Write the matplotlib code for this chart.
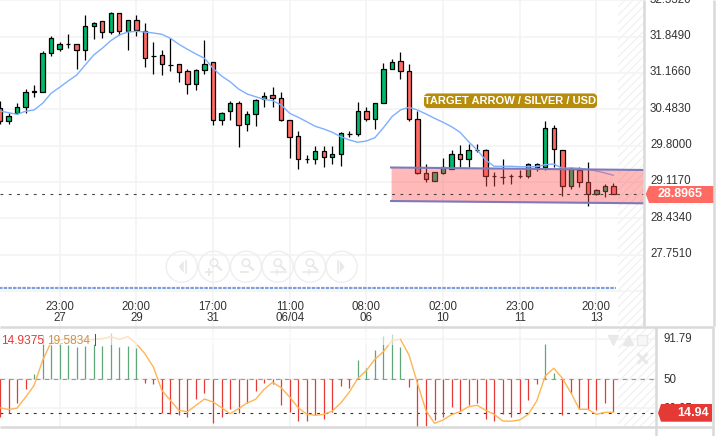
#!python3
# encoding: UTF-8

import matplotlib
matplotlib.use("Agg")
import matplotlib.pyplot as plt
from matplotlib.patches import Circle, FancyBboxPatch, Polygon
from matplotlib.transforms import ScaledTranslation

plt.rcParams["font.family"] = ["Liberation Sans", "DejaVu Sans"]
plt.rcParams["hatch.linewidth"] = 0.8

# candles, silver / usd
opens = [30.50, 30.27, 30.42, 30.52, 30.80, 30.81, 31.54, 31.62, 31.72, 31.72, 31.59, 32.04, 32.14, 31.94, 32.29, 31.96,
         32.16, 31.95, 31.48, 31.50, 31.32, 31.33, 31.20, 30.95, 31.23, 31.37, 30.28, 30.46, 30.60, 30.20, 30.39, 30.67,
         30.75, 30.69, 30.28, 29.98, 29.54, 29.54, 29.69, 29.58, 29.64, 30.02, 30.01, 30.45, 30.31, 30.60, 31.25, 31.39,
         31.20, 30.31, 29.28, 29.13, 29.28, 29.37, 29.64, 29.54, 29.71, 29.71, 29.22, 29.21, 29.22, 29.22, 29.22, 29.45,
         29.39, 30.13, 29.71, 29.04, 29.34, 29.11, 28.89, 28.94, 29.05]
closes = [30.27, 30.36, 30.52, 30.80, 30.83, 31.54, 31.82, 31.72, 31.72, 31.59, 32.04, 32.10, 31.94, 32.29, 31.96, 32.16,
          31.98, 31.45, 31.48, 31.33, 31.32, 31.19, 30.95, 31.23, 31.33, 30.28, 30.41, 30.60, 30.18, 30.39, 30.65, 30.73,
          30.70, 30.28, 29.96, 29.54, 29.54, 29.69, 29.58, 29.64, 30.03, 30.02, 30.45, 30.31, 30.60, 31.25, 31.37, 31.20,
          30.31, 29.28, 29.17, 29.30, 29.39, 29.64, 29.54, 29.71, 29.71, 29.22, 29.22, 29.21, 29.22, 29.22, 29.45, 29.39,
          30.13, 29.73, 29.04, 29.36, 29.11, 28.89, 28.96, 29.05, 28.8965]
highs = [30.64, 30.41, 30.60, 30.86, 30.94, 31.57, 31.86, 31.74, 31.89, 31.72, 32.25, 32.12, 32.14, 32.31, 32.29, 32.16,
         32.25, 32.10, 31.74, 31.59, 31.82, 31.33, 31.24, 31.25, 31.78, 31.37, 30.43, 30.63, 30.63, 30.46, 30.67, 30.80,
         30.90, 30.80, 30.28, 30.07, 29.62, 29.79, 29.79, 29.79, 30.05, 30.07, 30.62, 30.52, 30.60, 31.35, 31.42, 31.56,
         31.33, 30.46, 29.45, 29.30, 29.56, 29.71, 29.81, 29.83, 29.84, 29.73, 29.30, 29.54, 29.26, 29.34, 29.47, 29.47,
         30.26, 30.18, 29.71, 29.39, 29.39, 29.49, 28.98, 29.07, 29.09]
lows = [30.21, 30.21, 30.39, 30.42, 30.72, 30.80, 31.49, 31.57, 31.64, 31.24, 31.41, 31.81, 31.83, 31.90, 31.88, 31.60,
        31.87, 31.28, 31.15, 31.13, 31.21, 31.00, 30.78, 30.85, 31.15, 30.19, 30.19, 30.29, 29.77, 30.08, 30.16, 30.52,
        30.53, 30.26, 29.57, 29.37, 29.47, 29.45, 29.39, 29.46, 29.42, 29.96, 29.98, 30.26, 30.11, 30.60, 31.25, 31.06,
        30.26, 29.26, 29.11, 29.13, 29.26, 29.36, 29.39, 29.39, 29.68, 29.04, 29.05, 29.07, 29.07, 29.19, 29.19, 29.32,
        29.34, 29.39, 28.85, 28.98, 29.02, 28.66, 28.87, 28.83, 28.8965]
moving_avg = [30.451, 30.419, 30.389, 30.446, 30.470, 30.596, 30.784, 30.897, 31.015, 31.128, 31.316, 31.504, 31.630,
              31.773, 31.880, 31.936, 31.950, 31.936, 31.918, 31.893, 31.818, 31.705, 31.611, 31.523, 31.442, 31.254,
              31.109, 31.002, 30.865, 30.771, 30.720, 30.671, 30.645, 30.564, 30.408, 30.333, 30.250, 30.163, 30.113,
              30.051, 29.968, 29.906, 29.863, 29.887, 29.949, 30.137, 30.344, 30.470, 30.521, 30.470, 30.395, 30.314,
              30.239, 30.156, 30.051, 29.874, 29.718, 29.530, 29.412, 29.412, 29.412, 29.404, 29.404, 29.404, 29.442,
              29.455, 29.374, 29.385, 29.374, 29.355, 29.323, 29.286, 29.242]

# lower oscillator
osc_bars = [11.5, 15.6, 25.9, 40.3, 55.2, 95.6, 85.3, 87.7, 85.3, 83.0, 84.6, 86.4, 84.0, 98.0, 83.0, 84.3, 81.9, 46.5,
            45.5, 15.6, 14.3, 13.5, 11.5, 30.0, 36.2, 4.7, 10.9, 19.7, 15.0, 25.3, 37.6, 46.5, 45.5, 23.8, 16.6, 7.4,
            7.4, 13.5, 9.4, 16.6, 43.4, 41.3, 69.9, 61.3, 80.2, 94.6, 96.7, 83.0, 42.4, 1.2, 2.2, 8.1, 11.5, 21.8,
            17.7, 23.8, 25.3, 8.8, 7.4, 14.3, 11.5, 15.0, 28.7, 44.9, 86.4, 56.2, 13.5, 36.2, 19.1, 19.1, 18.4, 25.3, 16.6]
osc_line = [20.6, 18.9, 20.3, 31.6, 43.7, 69.4, 88.3, 90.7, 91.4, 91.4, 90.7, 91.0, 91.8, 94.0, 91.1, 94.0, 86.7, 76.4,
            62.7, 38.6, 28.3, 18.0, 16.6, 23.2, 29.7, 26.6, 20.8, 14.6, 19.7, 25.6, 29.4, 39.7, 46.9, 41.3, 31.7, 20.7,
            14.2, 12.9, 13.9, 17.3, 25.6, 36.9, 51.0, 59.0, 70.7, 78.5, 89.9, 91.3, 75.1, 45.9, 17.7, 4.7, 8.1, 13.6,
            16.7, 21.8, 23.3, 18.1, 14.0, 7.1, 6.8, 8.1, 14.0, 27.7, 53.5, 61.4, 51.1, 36.2, 19.1, 19.1, 13.9, 16.0, 16.0]

price_ticks = [32.532, 31.849, 31.166, 30.483, 29.800, 29.117, 28.434, 27.751, 27.068]
price_tick_labels = ["32.5320", "31.8490", "31.1660", "30.4830", "29.8000", "29.1170", "28.4340", "27.7510", ""]
osc_ticks = [91.79, 50, 20.05]
osc_tick_labels = ["91.79", "50", "20.05"]
time_ticks = [7, 16, 25, 34, 43, 52, 61, 70]
time_labels = ["23:00\n27", "20:00\n29", "17:00\n31", "11:00\n06/04", "08:00\n06", "02:00\n10", "23:00\n11", "20:00\n13"]

last_price = 28.8965
last_osc = 14.94
osc_mid = 50
lower_rule = 27.124
band_x = [45.9, 75.6]
band_top = [29.389, 29.342]
band_bottom = [28.759, 28.716]

GREEN = "#00b96b"
RED = "#ff6b63"
GRID = "#f3f3f3"
PANEL = "#d9d9d9"
TEXT = "#333333"
W, H = 723, 436
PX_PER_BAR = 8.52
xs = list(range(len(opens)))

fig = plt.figure(figsize=(W / 100, H / 100), dpi=100)
ax = fig.add_axes([0, (H - 326.7) / H, 644 / W, 326.7 / H])
ax2 = fig.add_axes([0, (H - 427) / H, 655.7 / W, 100.3 / H])
up = fig.add_axes([0, 0, 1, 1])


def shift_labels(axis, px):
    # labels sit a little above their grid line
    for lab in axis.yaxis.get_ticklabels():
        lab.set_transform(lab.get_transform() + ScaledTranslation(0, px / 100, fig.dpi_scale_trans))


# main panel
ax.axvspan(72.5, 644 / PX_PER_BAR, facecolor="none", edgecolor="#efefef", hatch="////", lw=0, zorder=0)
ax.vlines(xs, lows, highs, color="black", lw=0.9, zorder=3)
colors = [GREEN if c >= o else RED for o, c in zip(opens, closes)]
heights = [c - o for o, c in zip(opens, closes)]
ax.bar(xs, heights, bottom=opens, width=0.52, color=colors, edgecolor="black", linewidth=0.9, zorder=4)
ax.plot(xs, moving_avg, color="#7db0ff", lw=1.0, zorder=5)
ax.fill_between(band_x, band_bottom, band_top, color="#ff5252", alpha=0.4, lw=0, zorder=6)
ax.plot(band_x, band_top, color="#7e79b8", lw=1.5, zorder=7)
ax.plot(band_x, band_bottom, color="#7e79b8", lw=1.5, zorder=7)
ax.axhline(last_price, color="#444444", lw=0.8, ls=(0, (2.5, 5)), zorder=7)
ax.plot([-1, 72.3], [lower_rule, lower_rule], color="#7c9fdd", lw=1.6, ls=(0, (1.6, 0.5)), zorder=3)

ax.set_xlim(0, 644 / PX_PER_BAR)
ax.set_ylim(32.538 - 0.0188 * 326.7, 32.538)
ax.set_xticks(time_ticks, time_labels, linespacing=0.85, color=TEXT, fontsize=8.3)
ax.yaxis.tick_right()
ax.set_yticks(price_ticks, price_tick_labels, color=TEXT, fontsize=8.3)
ax.tick_params(axis="x", length=0, pad=-18.5)
ax.tick_params(axis="y", length=0, pad=4.3)
ax.grid(color=GRID, lw=1.1, zorder=0)
ax.set_axisbelow(True)
shift_labels(ax, 2)

# oscillator panel
ax2.axvspan(72.5, 655.7 / PX_PER_BAR, facecolor="none", edgecolor="#efefef", hatch="////", lw=0, zorder=0)
bar_colors = ["#5fa777" if v >= osc_mid else "#e53935" for v in osc_bars]
ax2.vlines(xs, osc_mid, osc_bars, colors=bar_colors, lw=0.9, zorder=3)
ax2.axhline(osc_mid, color="#999999", lw=0.8, ls=(0, (4, 4)), zorder=2)
ax2.axhline(last_osc, color="#333333", lw=0.8, ls=(0, (2.5, 5)), zorder=2)
ax2.plot(xs, osc_line, color="#ffb554", lw=1.0, zorder=4)
ax2.set_xlim(0, 655.7 / PX_PER_BAR)
ax2.set_ylim(50 - 47.7 * 1.03, 50 + 52.6 * 1.03)
ax2.set_xticks(time_ticks, [])
ax2.yaxis.tick_right()
ax2.set_yticks(osc_ticks, osc_tick_labels, color=TEXT, fontsize=8.3)
ax2.tick_params(axis="x", length=0)
ax2.tick_params(axis="y", length=0, pad=5.3)
ax2.grid(color=GRID, lw=1.1, zorder=0)
ax2.set_axisbelow(True)
shift_labels(ax2, 1.0)

for a in (ax, ax2):
    for s in a.spines.values():
        s.set_visible(False)
    a.patch.set_alpha(0)

# overlay in pixel coordinates: panel frame, badges and chart controls
up.set_xlim(0, W)
up.set_ylim(H, 0)
up.axis("off")
up.patch.set_alpha(0)

up.add_patch(plt.Rectangle((0, 332), 400, 13, color="white", alpha=0.6, lw=0))
up.text(1, 341, "14.9375", color="#e53935", fontsize=8.6, va="center")
up.text(47, 341, "19.5834", color="#c8944c", fontsize=8.6, va="center")
up.text(94, 340, "|", color="#555555", fontsize=8.6, va="center")

for xa, ya, xb, yb in [(0, 326.7, 714, 326.7), (0, 427, 714, 427), (644, 0, 644, 326), (714, 0, 714, 326),
                       (655.7, 327, 655.7, 436), (712.5, 327, 712.5, 436)]:
    up.plot([xa, xb], [ya, yb], color=PANEL, lw=1.8, solid_capstyle="butt")

up.add_patch(FancyBboxPatch((425, 94.5), 171, 12.5, boxstyle="round,pad=0,rounding_size=3", fc="#b78c0a", ec="#b78c0a", lw=1.5))
up.text(510.5, 100.8, "TARGET ARROW / SILVER / USD", color="white", fontsize=8.0, fontweight="bold", ha="center", va="center")

up.add_patch(Polygon([(645.7, 194), (649, 186), (714, 186), (714, 203), (649, 203)], fc="#ff6b63", ec="none"))
up.text(680, 194.3, "28.8965", color="white", fontsize=9, fontweight="bold", ha="center", va="center")
up.add_patch(Polygon([(658, 413), (661, 404), (712, 404), (712, 421.7), (661, 421.7)], fc="#e53935", ec="none"))
up.text(709, 413, "14.94", color="white", fontsize=9, fontweight="bold", ha="right", va="center")

# icons top right of the oscillator
ICON = "#e9e9e9"
up.plot(613, 339.5, marker="v", ms=7, color=ICON, ls="none")
up.plot(628, 340, marker="^", ms=7, color=ICON, ls="none")
up.plot(642, 339.5, marker="s", ms=7, mfc="#f7f7f7", mec=ICON, ls="none")
up.plot(642, 358, marker="x", ms=7, mew=2.2, color=ICON, ls="none")

# navigation buttons
NAV = "#e8e8e8"
centers = [181.7, 214, 246, 277.7, 310, 341.7]
cy = 266.7
for i, cx in enumerate(centers):
    up.add_patch(Circle((cx, cy), 15.5, fc="none", ec="#eeeeee", lw=1.0))
    if i == 0 or i == 5:
        sign = -1 if i == 0 else 1
        up.add_patch(Polygon([(cx + sign * 3, cy), (cx - sign * 2, cy - 6), (cx - sign * 2, cy + 6)], fc=NAV, ec="none"))
        up.plot([cx - sign * 4, cx - sign * 4], [cy - 6, cy + 6], color=NAV, lw=1.2)
    else:
        up.add_patch(Circle((cx, cy - 4), 3.7, fc="none", ec=NAV, lw=1.1))
        up.plot([cx + 2.8, cx + 7], [cy - 1, cy + 3], color=NAV, lw=1.6)
        if i == 1:
            up.plot([cx - 8, cx - 2], [cy + 5, cy + 5], color=NAV, lw=1.3)
            up.plot([cx - 5, cx - 5], [cy + 2, cy + 8], color=NAV, lw=1.3)
        elif i == 2:
            up.plot([cx - 5, cx + 2], [cy + 5, cy + 5], color=NAV, lw=1.3)
        else:
            up.plot([cx - 7, cx + 8], [cy + 5, cy + 5], color=NAV, lw=1.1)
            up.plot([cx - 1, cx - 1], [cy + 3, cy + 7], color=NAV, lw=1.1)

fig.savefig("out.png", dpi=100, facecolor="white")
